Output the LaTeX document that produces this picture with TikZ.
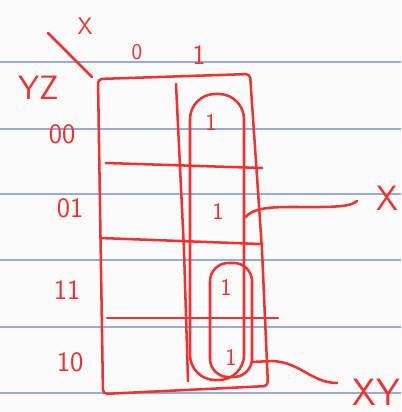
\documentclass[tikz,border=0pt]{standalone}
\usepackage{tikz}
\usetikzlibrary{positioning}
\definecolor{pen}{RGB}{238,50,50}
\definecolor{ruling}{RGB}{150,172,215}

\begin{document}
\begin{tikzpicture}[x=0.025cm,y=-0.025cm,
    hand/.style={draw=pen,line width=1.8pt,line cap=round,line join=round},
    lab/.style={text=pen,inner sep=0pt,font=\sffamily\fontsize{#1}{#1}\selectfont},
    lab/.default=20]
        \def\W{401}
        \def\H{412}

        %------------------
        % paper
        %------------------
        \useasboundingbox (0,0) rectangle (\W,\H);
        \fill[white!98!black] (0,0) rectangle (\W,\H);
        \foreach \y in {62,129,194,260,327,393}
          \draw[ruling,line width=0.9pt] (0,\y)--(\W,\y);

        %------------------
        % map
        %------------------

        % outline
        \draw[hand,rounded corners=3pt]
          (98,79) -- (103,394) -- (268,386) -- (262,250) -- (250,74) -- cycle;

        % column divider
        \draw[hand] (176,84) -- (184,250) -- (188,381);

        % rows
        \draw[hand] (106,163) -- (262,168);
        \draw[hand] (100,238) -- (260,244);
        \draw[hand] (107,318) -- (278,318);

        % corner slash
        \draw[hand] (48,33) -- (92,77);

        %------------------
        % labels
        %------------------
        \node[lab=17] (varx) at (85,26) {X};
        \node[lab=24] (varyz) at (39,88) {YZ};
        \node[lab=16] (colzero) at (137,52) {0};
        \node[lab=20] (colone) at (199,55) {1};

        \node[lab] (rowa) at (62,134) {00};
        \node[lab] (rowb) at (70,208) {01};
        \node[lab] (rowc) at (67,290) {11};
        \node[lab] (rowd) at (70,362) {10};

        % ones
        \node[lab=17] (onea) at (211,122) {1};
        \node[lab=17] (oneb) at (218,211) {1};
        \node[lab=17] (onec) at (226,287) {1};
        \node[lab=17] (oned) at (231,357) {1};

        %------------------
        % groups
        %------------------
        \node[hand,rounded corners=18pt,minimum width=1.35cm,minimum height=7.15cm]
          (grpx) at (217,237) {};
        \node[hand,rounded corners=13pt,minimum width=1.05cm,minimum height=2.85cm]
          (grpxy) at (231,320) {};

        \node[lab=25] (labx) at (387,198) {X};
        \node[lab=27] (labxy) at (376,392) {XY};

        \coordinate (tipx) at (357,201);
        \coordinate (tipxy) at (337,383);

        \draw[hand] (grpx.35) .. controls (252,210) and (262,207) .. (290,207)
          .. controls (325,207) and (350,208) .. (tipx);
        \draw[hand] (grpxy.-62) -- (272,361) .. controls (300,362) and (312,383) .. (tipxy);
      \end{tikzpicture}
\end{document}
